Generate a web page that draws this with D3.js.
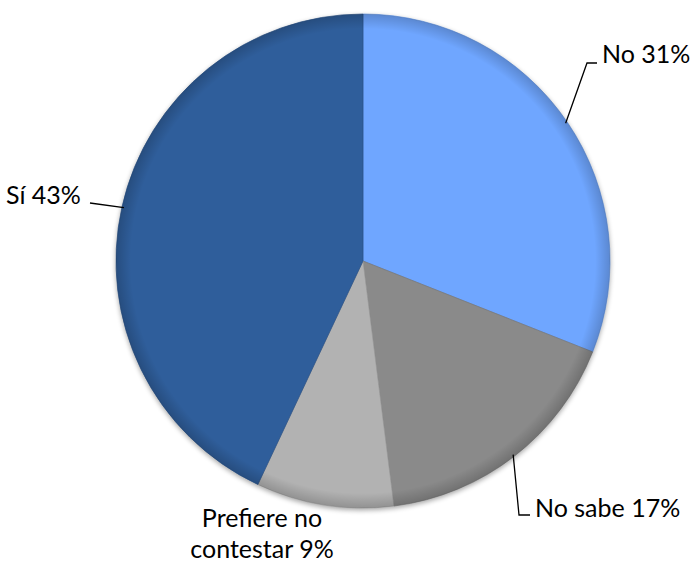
<!DOCTYPE html>
<html><head><meta charset="utf-8">
<script src="https://cdn.jsdelivr.net/npm/d3@7"></script>
<style>body{margin:0;background:#fff}svg{display:block}</style>
</head><body>
<script>
const categories = ["No", "No sabe", "Prefiere no contestar", "Sí"];
const values = [31, 17, 9, 43];
const labelLines = [["No 31%"], ["No sabe 17%"], ["Prefiere no", "contestar 9%"], ["Sí 43%"]];
const colors = ["#6fa6ff", "#8a8a8a", "#b2b2b2", "#2f5e9b"];

const W = 691, H = 563, cx = 363, cy = 261, R = 247;
const svg = d3.select("body").append("svg").attr("width", W).attr("height", H);
const defs = svg.append("defs");
const f = defs.append("filter").attr("id", "sh").attr("x", "-10%").attr("y", "-10%").attr("width", "120%").attr("height", "120%")
  .attr("color-interpolation-filters", "sRGB");
f.append("feGaussianBlur").attr("in", "SourceAlpha").attr("stdDeviation", 2.5);
f.append("feOffset").attr("dx", 0).attr("dy", 2).attr("result", "b");
f.append("feComponentTransfer").attr("result", "s").append("feFuncA").attr("type", "linear").attr("slope", 0.35);
const m = f.append("feMerge"); m.append("feMergeNode").attr("in", "s"); m.append("feMergeNode").attr("in", "SourceGraphic");

const rim = defs.append("radialGradient").attr("id", "rim")
  .attr("gradientUnits", "userSpaceOnUse").attr("cx", 0).attr("cy", 0).attr("r", R);
rim.append("stop").attr("offset", "0.94").attr("stop-color", "#000").attr("stop-opacity", 0);
rim.append("stop").attr("offset", "1").attr("stop-color", "#000").attr("stop-opacity", 0.18);

const pie = d3.pie().sort(null).value(d => d)(values);
const arc = d3.arc().innerRadius(0).outerRadius(R);
const g = svg.append("g").attr("transform", `translate(${cx},${cy})`);
const gs = g.append("g").attr("filter", "url(#sh)");
gs.selectAll("path").data(pie).join("path")
  .attr("d", arc).attr("fill", (d, i) => colors[i])
  .attr("stroke", (d, i) => d3.color(colors[i]).darker(0.4)).attr("stroke-width", 0.7);
g.append("circle").attr("r", R).attr("fill", "url(#rim)");

const font = "Lato, 'Open Sans', sans-serif";
const pt = (a, r) => [cx + r * Math.sin(a), cy - r * Math.cos(a)];
const layouts = [
  {elbow: [587, 63], end: [597, 63], tx: 602, ty: 54, anchor: "start"},
  {elbow: [519, 515], end: [530, 515], tx: 535, ty: 508, anchor: "start"},
  {line: false, tx: 262, ty: 518, anchor: "middle"},
  {elbow: null, end: [90, 203], tx: 6, ty: 195, anchor: "start"}
];
pie.forEach((d, i) => {
  const L = layouts[i];
  const a = (d.startAngle + d.endAngle) / 2;
  if (L.line !== false) {
    const pts = [pt(a, R - 2)]; if (L.elbow) pts.push(L.elbow); pts.push(L.end);
    svg.append("path").attr("d", d3.line()(pts)).attr("fill", "none").attr("stroke", "#000").attr("stroke-width", 1.3);
  }
  const t = svg.append("text").attr("font-family", font).attr("font-size", 25).attr("fill", "#000")
    .attr("text-anchor", L.anchor);
  labelLines[i].forEach((s, k) => t.append("tspan").attr("x", L.tx).attr("y", L.ty + k * 31).attr("dy", "0.35em").text(s));
});
</script>
</body></html>
